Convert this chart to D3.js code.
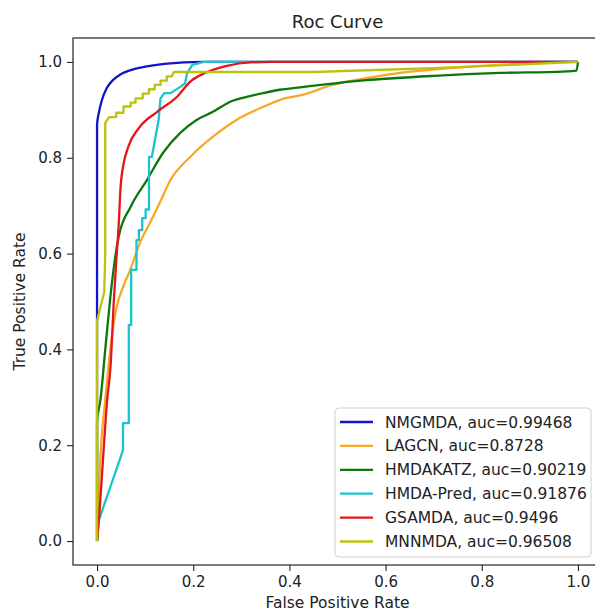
<!DOCTYPE html>
<html>
<head>
<meta charset="utf-8">
<script src="https://cdn.jsdelivr.net/npm/d3@7"></script>
<style>
  html, body { margin: 0; padding: 0; background: #fff; }
  svg { display: block; font-family: "DejaVu Sans", sans-serif; }
</style>
</head>
<body>
<div id="chart"></div>
<script>
// ROC curves for six miRNA-disease association methods.
const modelNames = ['NMGMDA', 'LAGCN', 'HMDAKATZ', 'HMDA-Pred', 'GSAMDA', 'MNNMDA'];
const aucValues = ['0.99468', '0.8728', '0.90219', '0.91876', '0.9496', '0.96508'];
const lineColors = ['#1414c8', '#f7a829', '#0b780b', '#1cc3cc', '#e3161a', '#bcc30a'];
const tickValues = [0, 0.2, 0.4, 0.6, 0.8, 1.0];

// [false positive rate, true positive rate]
const nmgmdaRoc = [[0,0],[0,0.4],[0,0.87],[0.004,0.895],[0.01,0.92],[0.02,0.945],[0.033,0.962],
  [0.05,0.975],[0.07,0.983],[0.1,0.99],[0.14,0.996],[0.22,1],[1,1]];
const lagcnRoc = [[0,0],[0.003,0.08],[0.006,0.155],[0.017,0.294],[0.03,0.42],[0.041,0.489],
  [0.054,0.53],[0.069,0.566],[0.089,0.622],[0.11,0.664],[0.13,0.705],[0.153,0.754],[0.194,0.802],
  [0.241,0.844],[0.29,0.879],[0.345,0.906],[0.394,0.925],[0.422,0.93],[0.49,0.952],[0.56,0.966],
  [0.63,0.977],[0.734,0.987],[0.838,0.994],[1,1]];
const hmdakatzRoc = [[0,0],[0,0.25],[0.007,0.294],[0.017,0.399],[0.027,0.503],[0.037,0.587],
  [0.045,0.635],[0.07,0.698],[0.104,0.754],[0.137,0.81],[0.173,0.852],[0.207,0.879],[0.241,0.896],
  [0.277,0.917],[0.311,0.927],[0.345,0.935],[0.38,0.942],[0.422,0.947],[0.56,0.962],[0.70,0.971],
  [0.838,0.977],[0.969,0.98],[0.997,0.982],[1,1]];
const hmdaPredRoc = [[0,0],[0.004,0.044],[0.054,0.19],[0.054,0.246],[0.066,0.246],[0.066,0.451],
  [0.071,0.451],[0.071,0.566],[0.082,0.566],[0.082,0.628],[0.087,0.628],[0.087,0.649],[0.094,0.649],
  [0.094,0.674],[0.101,0.674],[0.101,0.692],[0.108,0.692],[0.108,0.802],[0.114,0.802],[0.128,0.879],
  [0.132,0.924],[0.14,0.935],[0.153,0.935],[0.173,0.948],[0.183,0.955],[0.187,0.976],[0.198,0.994],
  [0.222,1],[1,1]];
const gsamdaRoc = [[0,0],[0.005,0.06],[0.013,0.18],[0.021,0.294],[0.028,0.364],[0.035,0.503],
  [0.041,0.6],[0.045,0.66],[0.049,0.74],[0.054,0.781],[0.065,0.823],[0.087,0.862],[0.125,0.896],
  [0.167,0.928],[0.194,0.959],[0.222,0.976],[0.27,0.992],[0.319,0.999],[0.36,1],[1,1]];
const mnnmdaRoc = [[0,0],[0,0.46],[0.01,0.5],[0.015,0.52],[0.017,0.6],[0.017,0.873],[0.025,0.885],
  [0.04,0.885],[0.04,0.894],[0.055,0.894],[0.055,0.907],[0.07,0.907],[0.07,0.915],[0.08,0.915],
  [0.08,0.924],[0.095,0.924],[0.095,0.934],[0.108,0.934],[0.108,0.943],[0.12,0.943],[0.12,0.952],
  [0.132,0.952],[0.132,0.961],[0.145,0.961],[0.145,0.97],[0.155,0.97],[0.16,0.979],[0.45,0.979],
  [0.7,0.987],[1,1]];

const rocSeries = [nmgmdaRoc, lagcnRoc, hmdakatzRoc, hmdaPredRoc, gsamdaRoc, mnnmdaRoc];
// Stepped curves (HMDA-Pred, MNNMDA) stay linear; the rest are smoothed.
const stepped = new Set([3, 5]);

const width = 595, height = 612;
const margin = {top: 38, left: 73};
const plotW = 529, plotH = 527;

const svg = d3.select('#chart').append('svg')
  .attr('width', width).attr('height', height);

// matplotlib-style 5% padding on both axes
const x = d3.scaleLinear().domain([-0.05, 1.05]).range([margin.left, margin.left + plotW]);
const y = d3.scaleLinear().domain([-0.05, 1.05]).range([margin.top + plotH, margin.top]);

const plot = svg.append('g');
const straight = d3.line().x(d => x(d[0])).y(d => y(d[1]));
const smooth = d3.line().x(d => x(d[0])).y(d => y(d[1])).curve(d3.curveMonotoneX);

plot.selectAll('path.roc')
  .data(rocSeries)
  .join('path')
  .attr('class', 'roc')
  .attr('fill', 'none')
  .attr('stroke', (d, i) => lineColors[i])
  .attr('stroke-width', 2.3)
  .attr('stroke-linejoin', 'round')
  .attr('d', (d, i) => stepped.has(i) ? straight(d) : smooth(d));

// Frame around the axes
svg.append('rect')
  .attr('x', margin.left).attr('y', margin.top)
  .attr('width', plotW).attr('height', plotH)
  .attr('fill', 'none').attr('stroke', '#222').attr('stroke-width', 1.2);

const xAxis = svg.append('g')
  .attr('transform', `translate(0,${margin.top + plotH})`)
  .call(d3.axisBottom(x).tickValues(tickValues).tickFormat(d3.format('.1f')).tickSize(6).tickPadding(5));
const yAxis = svg.append('g')
  .attr('transform', `translate(${margin.left},0)`)
  .call(d3.axisLeft(y).tickValues(tickValues).tickFormat(d3.format('.1f')).tickSize(6).tickPadding(5));

[xAxis, yAxis].forEach(ax => {
  ax.select('.domain').remove();
  ax.selectAll('line').attr('stroke', '#222').attr('stroke-width', 1.1);
  ax.selectAll('text').attr('fill', '#222')
    .style('font-family', '"DejaVu Sans", sans-serif').style('font-size', '15px');
});

svg.append('text')
  .attr('x', margin.left + plotW / 2).attr('y', 28)
  .attr('text-anchor', 'middle').attr('fill', '#222')
  .style('font-size', '18px').text('Roc Curve');

svg.append('text')
  .attr('x', margin.left + plotW / 2).attr('y', 608)
  .attr('text-anchor', 'middle').attr('fill', '#222')
  .style('font-size', '15.5px').text('False Positive Rate');

svg.append('text')
  .attr('transform', `translate(25,${margin.top + plotH / 2}) rotate(-90)`)
  .attr('text-anchor', 'middle').attr('fill', '#222')
  .style('font-size', '15.5px').text('True Positive Rate');

// Legend box in the lower right corner
const legend = svg.append('g').attr('transform', 'translate(335,408)');
legend.append('rect')
  .attr('width', 256).attr('height', 149).attr('rx', 4)
  .attr('fill', '#fff').attr('fill-opacity', 0.85)
  .attr('stroke', '#d0d0d0').attr('stroke-width', 1);

const rows = legend.selectAll('g.row')
  .data(modelNames)
  .join('g')
  .attr('class', 'row')
  .attr('transform', (d, i) => `translate(0,${14 + i * 23.9})`);

rows.append('line')
  .attr('x1', 5).attr('x2', 38)
  .attr('stroke', (d, i) => lineColors[i]).attr('stroke-width', 2.3);

rows.append('text')
  .attr('x', 50).attr('dy', '0.36em').attr('fill', '#222')
  .style('font-size', '15.5px')
  .text((d, i) => `${d}, auc=${aucValues[i]}`);
</script>
</body>
</html>
